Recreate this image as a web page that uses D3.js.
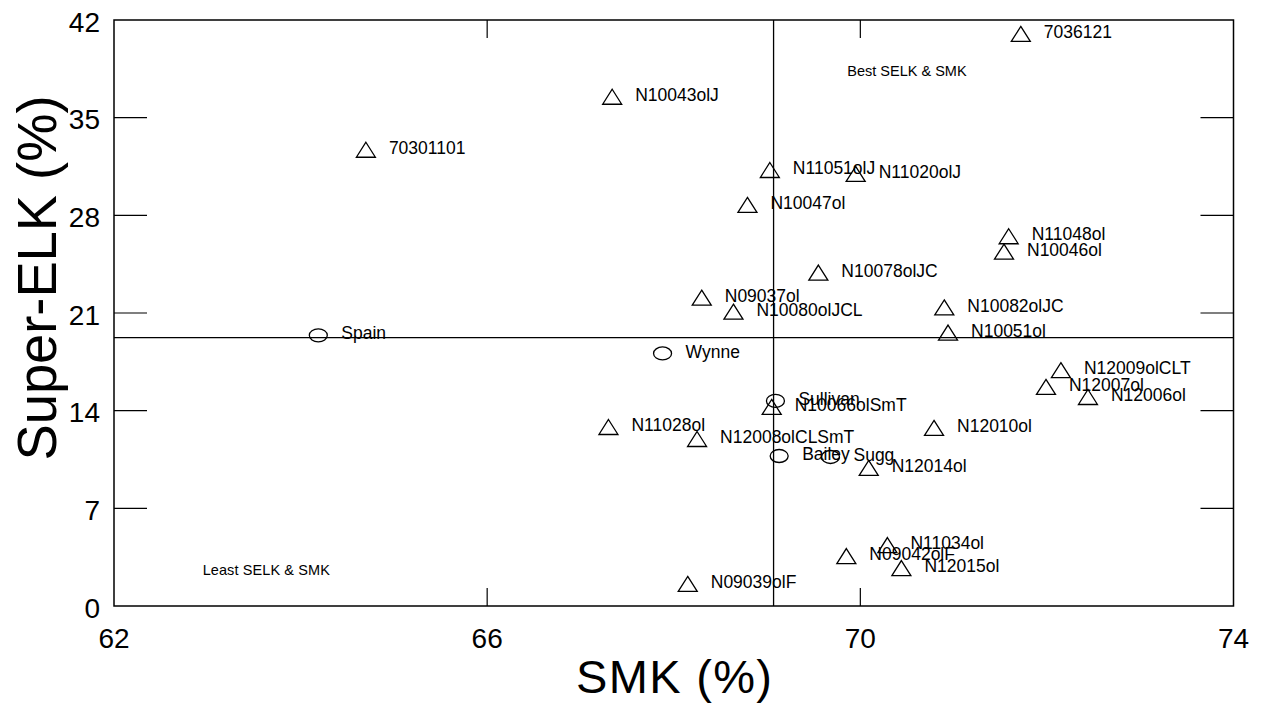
<!DOCTYPE html>
<html>
<head>
<meta charset="utf-8">
<script src="https://cdn.jsdelivr.net/npm/d3@7"></script>
<style>
  body { margin: 0; background: #fff; }
  text { font-family: Arial, "Liberation Sans", sans-serif; fill: #000; }
</style>
</head>
<body>
<script>
// genotypes, SMK (%) vs Super-ELK (%)
var names = ['7036121','N10043olJ','70301101','N11051olJ','N11020olJ','N10047ol','N11048ol','N10046ol',
             'N10078olJC','N09037ol','N10080olJCL','N10082olJC','N10051ol','Spain','Wynne','N12009olCLT',
             'N12007ol','N12006ol','Sullivan','N10066olSmT','N11028ol','N12008olCLSmT','N12010ol','Bailey',
             'Sugg','N12014ol','N11034ol','N09042olF','N12015ol','N09039olF'];
var smk   = [71.72,67.34,64.70,69.03,69.95,68.79,71.59,71.54,69.55,68.30,68.64,70.90,70.94,64.19,67.88,72.15,
             71.99,72.44,69.09,69.05,67.30,68.25,70.79,69.13,69.68,70.09,70.29,69.85,70.44,68.15];
var selk  = [41.0,36.5,32.7,31.25,30.97,28.75,26.5,25.4,23.9,22.1,21.1,21.4,19.6,19.4,18.1,16.9,
             15.7,14.98,14.7,14.27,12.83,11.97,12.76,10.75,10.68,9.9,4.37,3.58,2.72,1.58];
// o = check cultivar (circle), t = breeding line (triangle)
var kind  = ['t','t','t','t','t','t','t','t','t','t','t','t','t','o','o','t',
             't','t','o','t','t','t','t','o','o','t','t','t','t','t'];

var xTicks = [62,66,70,74];
var yTicks = [0,7,14,21,28,35,42];
var meanSmk = 69.07;   // vertical reference line
var meanSelk = 19.23;  // horizontal reference line

var width = 1261, height = 706;
var margin = {left:114, top:20, right:27.5, bottom:100};
var w = width - margin.left - margin.right;
var h = height - margin.top - margin.bottom;

var x = d3.scaleLinear().domain([62,74]).range([0,w]);
var y = d3.scaleLinear().domain([0,42]).range([h,0]);

var svg = d3.select("body").append("svg").attr("width",width).attr("height",height);
var g = svg.append("g").attr("transform","translate("+margin.left+","+margin.top+")");

// inner ticks on all four sides
var inner = yTicks.slice(1,-1);
var innerX = xTicks.slice(1,-1);
g.selectAll(".ytl").data(inner).enter().append("line")
  .attr("x1",0).attr("x2",33).attr("y1",d=>y(d)).attr("y2",d=>y(d))
  .attr("stroke","#000").attr("stroke-width",1.2);
g.selectAll(".ytr").data(inner).enter().append("line")
  .attr("x1",w).attr("x2",w-33).attr("y1",d=>y(d)).attr("y2",d=>y(d))
  .attr("stroke","#000").attr("stroke-width",1.2);
g.selectAll(".xtb").data(innerX).enter().append("line")
  .attr("x1",d=>x(d)).attr("x2",d=>x(d)).attr("y1",h).attr("y2",h-18)
  .attr("stroke","#000").attr("stroke-width",1.2);
g.selectAll(".xtt").data(innerX).enter().append("line")
  .attr("x1",d=>x(d)).attr("x2",d=>x(d)).attr("y1",0).attr("y2",18)
  .attr("stroke","#000").attr("stroke-width",1.2);

// tick labels
g.selectAll(".yl").data(yTicks).enter().append("text")
  .attr("x",-14).attr("y",d=>y(d)+2).attr("dy","0.35em")
  .attr("text-anchor","end").style("font-size","28px").text(d=>d);
g.selectAll(".xl").data(xTicks).enter().append("text")
  .attr("x",d=>x(d)).attr("y",h+42)
  .attr("text-anchor","middle").style("font-size","28px").text(d=>d);

// reference lines
g.append("line").attr("x1",x(meanSmk)).attr("x2",x(meanSmk)).attr("y1",0).attr("y2",h)
  .attr("stroke","#000").attr("stroke-width",1.3);
g.append("line").attr("x1",0).attr("x2",w).attr("y1",y(meanSelk)).attr("y2",y(meanSelk))
  .attr("stroke","#000").attr("stroke-width",1.3);

// frame
g.append("rect").attr("x",0).attr("y",0).attr("width",w).attr("height",h)
  .attr("fill","none").attr("stroke","#000").attr("stroke-width",1.5);

// quadrant notes
g.append("text").attr("x",x(70.5)).attr("y",y(38.0)).attr("text-anchor","middle")
  .style("font-size","14.5px").text("Best SELK & SMK");
g.append("text").attr("x",x(62.95)).attr("y",y(2.2)).style("font-size","14.5px")
  .style("letter-spacing","0.1px").text("Least SELK & SMK");

// markers
var pts = names.map(function(n,i){ return {name:n, x:smk[i], y:selk[i], k:kind[i]}; });
var tri = "M0,-7.5L9.5,7.5L-9.5,7.5Z";

var mk = g.selectAll(".pt").data(pts).enter().append("g")
  .attr("transform",d=>"translate("+x(d.x)+","+y(d.y)+")");
mk.filter(d=>d.k==='t').append("path").attr("d",tri)
  .attr("fill","none").attr("stroke","#000").attr("stroke-width",1.3);
mk.filter(d=>d.k==='o').append("ellipse").attr("rx",9).attr("ry",6.5)
  .attr("fill","none").attr("stroke","#000").attr("stroke-width",1.3);
mk.append("text").attr("x",23).attr("y",-2).attr("dy","0.35em")
  .style("font-size","17.5px").text(d=>d.name);

// axis titles
svg.append("text").attr("x",674).attr("y",693).attr("text-anchor","middle")
  .attr("textLength",196).attr("lengthAdjust","spacing")
  .style("font-size","47px").text("SMK (%)");
svg.append("text").attr("transform","translate(56,278) rotate(-90)").attr("text-anchor","middle")
  .attr("textLength",365).attr("lengthAdjust","spacingAndGlyphs")
  .style("font-size","56px").text("Super-ELK (%)");
</script>
</body>
</html>
